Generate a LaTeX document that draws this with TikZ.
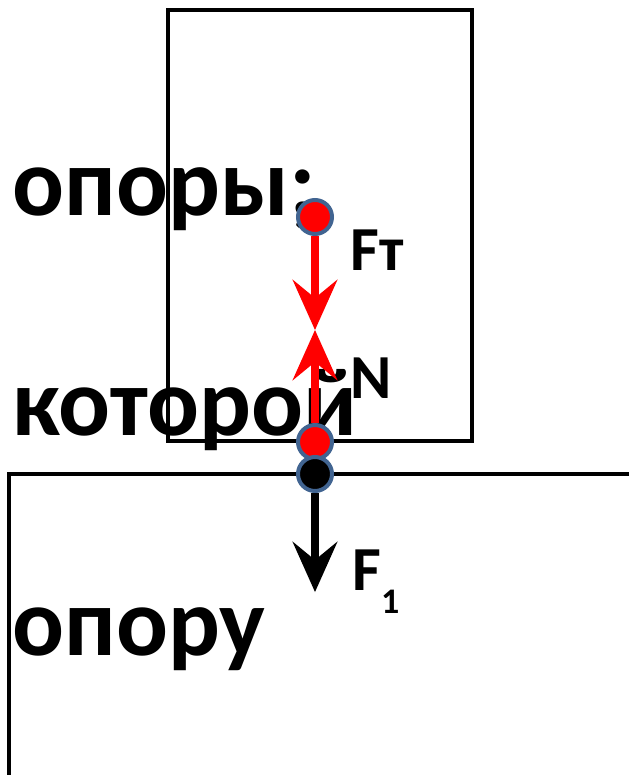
\documentclass[tikz,border=0pt]{standalone}
\usepackage{fontspec}
\setsansfont{Carlito}
\usetikzlibrary{arrows.meta, positioning}
\definecolor{dotrim}{RGB}{65,100,145}
\pgfdeclarelayer{front}
\pgfsetlayers{main,front}

\begin{document}
\begin{tikzpicture}[x=0.75pt, y=-0.75pt,
  outline/.style={line width=3.5pt},
  word/.style={inner sep=0pt, anchor=base west, font=\sffamily\bfseries\fontsize{72.6}{80}\selectfont},
  forcelbl/.style={inner sep=0pt, anchor=base west, font=\sffamily\bfseries\fontsize{47}{52}\selectfont},
  point/.style={circle, inner sep=0pt, minimum size=25.5pt, line width=3pt, draw=dotrim},
  force/.style={line width=5.5pt, -{Stealth[length=38pt, width=34pt, inset=14pt, line width=0pt]}}]
  \useasboundingbox (0,0) rectangle (629,775);
  % block and support
  \draw[outline] (168,10) rectangle (472,441);
  \draw[outline] (629,474) -- (9,474) -- (9,775);
  % words
  \node[word] (w1) at (12,215) {опоры;};
  \node[word] (w2) at (12,435) {которой};
  \node[word] (w3) at (12,655) {опору};
  % application points
  \begin{pgfonlayer}{front}
    \node[point, fill=red] (ft) at (315,217) {};
    \node[point, fill=red] (n) at (315,442) {};
    \node[point, fill=black] (f1) at (315,474) {};
  \end{pgfonlayer}
  \coordinate (meet) at (315,330);
  \coordinate (f1end) at (315,592);
  % forces
  \draw[force, red] (ft) -- (meet);
  \draw[force, red] (n) -- (meet);
  \draw[force] (f1) -- (f1end);
  \node[forcelbl] (ftlbl) at (350,270) {Fт};
  \node[forcelbl] (nlbl) at (350,398) {N};
  \node[forcelbl] (f1lbl) at (352,590) {F\raisebox{-17.25pt}{\fontsize{27}{30}\selectfont 1}};
\end{tikzpicture}
\end{document}
